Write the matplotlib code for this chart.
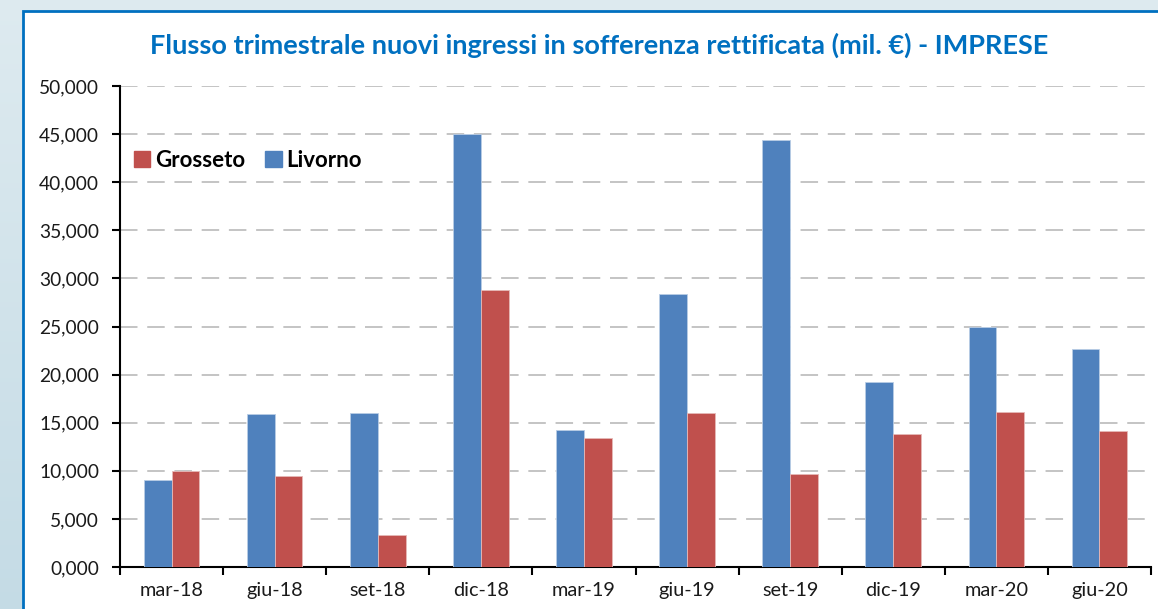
import numpy as np
import matplotlib.pyplot as plt
from matplotlib.patches import Rectangle, Patch

# dati
periodi = ["mar-18", "giu-18", "set-18", "dic-18", "mar-19",
           "giu-19", "set-19", "dic-19", "mar-20", "giu-20"]
livorno = [9.05, 15.9, 16.0, 45.0, 14.25, 28.4, 44.4, 19.2, 24.95, 22.7]
grosseto = [10.0, 9.45, 3.35, 28.8, 13.4, 16.0, 9.65, 13.85, 16.1, 14.15]
y_ticks = [0, 5, 10, 15, 20, 25, 30, 35, 40, 45, 50]
y_labels = ["0,000", "5,000", "10,000", "15,000", "20,000", "25,000",
            "30,000", "35,000", "40,000", "45,000", "50,000"]

col_liv = "#4F81BD"
col_gro = "#C0504D"
blu = "#0070C0"

plt.rcParams['font.family'] = ['Lato', 'DejaVu Sans']

W, H = 1158, 609
fig = plt.figure(figsize=(W/100, H/100), dpi=100)

# sfondo sfumato
bg = fig.add_axes([0, 0, 1, 1])
grad = np.linspace(0, 1, 256).reshape(-1, 1)
c_top = np.array([0.87, 0.92, 0.94])
c_bot = np.array([0.77, 0.86, 0.90])
img = c_top[None, None, :] * (1 - grad[:, :, None]) + c_bot[None, None, :] * grad[:, :, None]
bg.imshow(img, aspect='auto', extent=[0, 1, 0, 1], origin='upper')
bg.add_patch(Rectangle((23/W, -0.1), 1.2, 1.1 - 11/H, facecolor='white',
                       edgecolor=blu, linewidth=2))
bg.set_xlim(0, 1)
bg.set_ylim(0, 1)
bg.axis('off')

ax = fig.add_axes([120/W, 1 - 567/H, 1031/W, 481/H])
x = np.arange(len(periodi))
w = 0.27
ax.bar(x - w/2, livorno, w, color=col_liv, edgecolor='#B9CDE5', linewidth=0.6, zorder=3)
ax.bar(x + w/2, grosseto, w, color=col_gro, edgecolor='#E6B9B8', linewidth=0.6, zorder=3)

ax.set_xlim(-0.5, len(periodi) - 0.5)
ax.set_ylim(0, 50)
ax.set_yticks(y_ticks)
ax.set_yticklabels(y_labels, fontsize=13.8, color='#1a1a1a')
ax.set_xticks(x)
ax.set_xticklabels(periodi, fontsize=14.3, color='#1a1a1a')
ax.tick_params(axis='x', length=0, pad=11)
ax.set_xticks(np.arange(-0.5, len(periodi)), minor=True)
ax.tick_params(axis='x', which='minor', length=6, width=1.5, direction='out')
ax.tick_params(axis='y', length=6, width=1.5, direction='out', pad=9)

ax.grid(axis='y', color='#C4C4C4', linestyle=(0, (9, 5)), linewidth=1.4, zorder=0)
ax.set_facecolor('none')
for s in ['top', 'right']:
    ax.spines[s].set_visible(False)
ax.spines['left'].set_linewidth(1.5)
ax.spines['bottom'].set_linewidth(1.5)

handles = [Patch(color=col_gro, label="Grosseto"), Patch(color=col_liv, label="Livorno")]
ax.legend(handles=handles, loc='center left', bbox_to_anchor=(-0.006, 0.845), ncol=2,
          frameon=False, handlelength=0.75, handleheight=0.75, handletextpad=0.2,
          columnspacing=0.9, prop={'weight': 'bold', 'size': 16})

fig.text(0.5 * (147 + 1052) / W, 1 - 45/H,
         "Flusso trimestrale nuovi ingressi in sofferenza rettificata (mil. €) - IMPRESE",
         ha='center', va='center', color=blu, fontsize=19.5, fontweight='bold')

fig.savefig("out.png", dpi=100)
